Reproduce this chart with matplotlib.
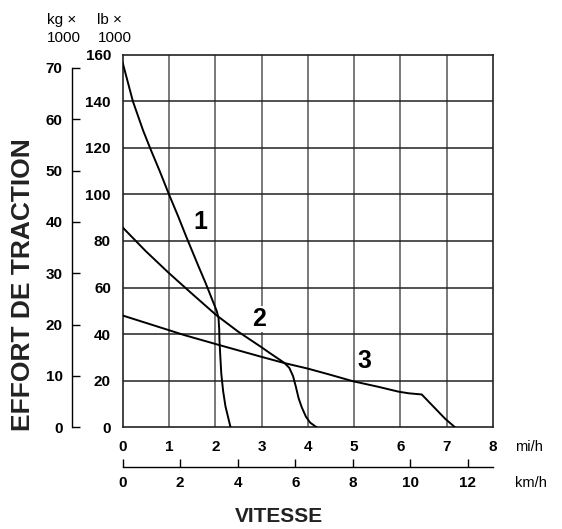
import numpy as np
import matplotlib.pyplot as plt

# traction effort curves, speed in mi/h, effort in lb x 1000
c1_mph = [0, 0.22, 0.44, 0.6, 0.8, 1.0, 1.2, 1.38, 1.63, 1.79, 1.88, 1.95, 2.03, 2.07,
          2.085, 2.09, 2.11, 2.13, 2.17, 2.22, 2.33]
c1_lb = [156.5, 140, 127.5, 119.5, 110, 100, 90.5, 81.5, 69.5, 62, 57.5, 54, 50, 47,
         42, 37.4, 30, 23, 15.5, 9, 0]
c2_mph = [0, 0.5, 1.0, 1.5, 2.02, 2.5, 2.99, 3.17, 3.49, 3.6, 3.68, 3.74, 3.8,
          3.87, 3.96, 4.05, 4.19]
c2_lb = [85.8, 75.6, 66.2, 57.3, 48.2, 41, 34.5, 32, 27.7, 25.5, 22, 17.5, 12.5,
         8.5, 4.5, 2, 0]
c3_mph = [0, 1.0, 1.33, 2.09, 2.99, 3.49, 4.0, 4.46, 4.97, 5.52, 5.96, 6.18, 6.46, 6.97, 7.18]
c3_lb = [48, 41.7, 39.6, 35.3, 30.3, 27.6, 25.2, 22.7, 19.8, 17.4, 15.3, 14.6, 14.1, 3.6, 0]

curve_labels = ["1", "2", "3"]
label_pos = [(1.67, 88.1), (2.94, 46.6), (5.22, 28.5)]

mph_ticks = [0, 1, 2, 3, 4, 5, 6, 7, 8]
lb_ticks = [0, 20, 40, 60, 80, 100, 120, 140, 160]
kmh_ticks = [0, 2, 4, 6, 8, 10, 12]
kg_ticks = [0, 10, 20, 30, 40, 50, 60, 70]

KMH_PER_MPH = 1.609344
LB_PER_KG = 2.20462

narrow = ["Liberation Sans Narrow", "Liberation Sans", "DejaVu Sans"]
plain = ["Liberation Sans", "DejaVu Sans"]

W, H = 562, 529
fig = plt.figure(figsize=(W / 100, H / 100), dpi=100)

def fx(px):
    return px / W

def fy(py):
    return 1 - py / H

left, right, top, bottom = 122.7, 493, 54.7, 427.3
ax = fig.add_axes([fx(left), fy(bottom), fx(right - left), (bottom - top) / H])
ax.set_xlim(0, 8)
ax.set_ylim(0, 160)

for x in mph_ticks[1:-1]:
    ax.axvline(x, color="#555555", lw=1.1, zorder=1)
for y in lb_ticks[1:-1]:
    ax.axhline(y, color="#222222", lw=1.1, zorder=1)

for xs, ys in [(c1_mph, c1_lb), (c2_mph, c2_lb), (c3_mph, c3_lb)]:
    ax.plot(xs, ys, color="black", lw=1.4, zorder=3, solid_joinstyle="round")

for lab, (x, y) in zip(curve_labels, label_pos):
    ax.text(x, y, lab, family=narrow, weight="bold", fontsize=18, ha="center", va="center",
            zorder=4, bbox=dict(facecolor="white", edgecolor="none", pad=0.5))

ax.set_xticks(mph_ticks)
ax.set_xticklabels([str(v) for v in mph_ticks])
ax.set_yticks(lb_ticks)
ax.set_yticklabels([str(v) for v in lb_ticks])
ax.tick_params(axis="x", length=0, pad=9.5)
ax.tick_params(axis="y", length=0, pad=8.5)
for lbl in ax.get_xticklabels() + ax.get_yticklabels():
    lbl.set_family(narrow)
    lbl.set_weight("bold")
    lbl.set_fontsize(11)
for sp in ax.spines.values():
    sp.set_linewidth(1.2)
    sp.set_color("#222222")

# kg axis on the far left
ax_kg = fig.add_axes([fx(71.7), fy(bottom), 0.01, (bottom - top) / H])
ax_kg.set_ylim(0, 160)
ax_kg.patch.set_visible(False)
ax_kg.set_xticks([])
for s in ["top", "right", "bottom"]:
    ax_kg.spines[s].set_visible(False)
ax_kg.spines["left"].set_bounds(0, 70 * LB_PER_KG)
ax_kg.spines["left"].set_linewidth(1.0)
ax_kg.set_yticks([k * LB_PER_KG for k in kg_ticks])
ax_kg.set_yticklabels([str(k) for k in kg_ticks])
ax_kg.tick_params(axis="y", direction="in", length=6, width=1.0, pad=6.5)
for lbl in ax_kg.get_yticklabels():
    lbl.set_family(narrow)
    lbl.set_weight("bold")
    lbl.set_fontsize(11)

# km/h axis below
ax_km = fig.add_axes([fx(left), fy(466.7), fx(right - left), 0.01])
ax_km.set_xlim(0, 8)
ax_km.patch.set_visible(False)
ax_km.set_yticks([])
for s in ["top", "right", "left"]:
    ax_km.spines[s].set_visible(False)
ax_km.spines["bottom"].set_bounds(0, 8)
ax_km.spines["bottom"].set_linewidth(1.0)
ax_km.set_xticks([k / KMH_PER_MPH for k in kmh_ticks])
ax_km.set_xticklabels([str(k) for k in kmh_ticks])
ax_km.tick_params(axis="x", direction="in", length=5.5, width=1.0, pad=6.5)
for lbl in ax_km.get_xticklabels():
    lbl.set_family(narrow)
    lbl.set_weight("bold")
    lbl.set_fontsize(11)

# unit labels and titles
fig.text(fx(515), fy(447), "mi/h", family=plain, fontsize=10.5, ha="left", va="center")
fig.text(fx(515), fy(483), "km/h", family=plain, fontsize=10.5, ha="left", va="center")
fig.text(fx(46.7), fy(20), "kg \u00d7", family=plain, fontsize=11, ha="left", va="center")
fig.text(fx(46.7), fy(37.5), "1000", family=plain, fontsize=11, ha="left", va="center")
fig.text(fx(96.7), fy(20), "lb \u00d7", family=plain, fontsize=11, ha="left", va="center")
fig.text(fx(97.7), fy(37.5), "1000", family=plain, fontsize=11, ha="left", va="center")
fig.text(fx(279), fy(516), "VITESSE", family=plain, weight="bold", fontsize=15,
         ha="center", va="center", color="#222222")
fig.text(fx(23), fy(285), "EFFORT DE TRACTION", family=plain, weight="bold", fontsize=19,
         ha="center", va="center", rotation=90, color="#222222")

fig.savefig("out.png", dpi=100)
